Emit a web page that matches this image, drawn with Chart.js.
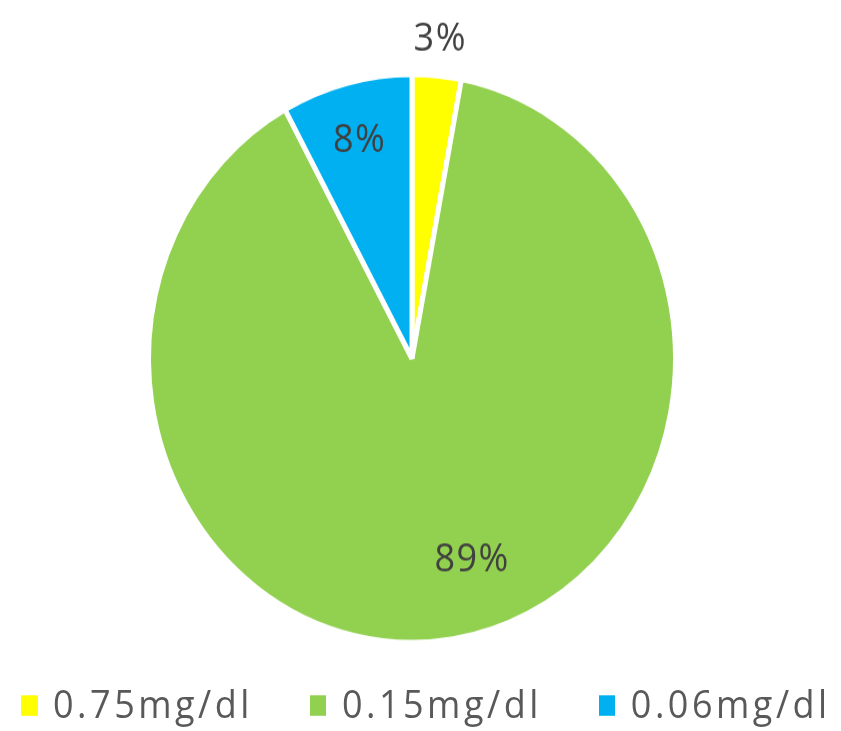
<!DOCTYPE html>
<html>
<head>
<meta charset="utf-8">
<script src="https://cdn.jsdelivr.net/npm/chart.js@4.4.1/dist/chart.umd.min.js"></script>
<style>
html,body{margin:0;padding:0;background:#fff;overflow:hidden;}
/* the reference is stretched vertically a little, so draw flat and scale */
#wrap{position:absolute;left:0;top:0;width:841px;height:678px;transform:scaleY(1.078);transform-origin:0 0;}
#c{display:block;}
#legend{position:absolute;left:21px;top:635px;display:flex;align-items:center;font-family:'Open Sans',sans-serif;font-size:36px;line-height:36px;color:#595959;letter-spacing:3.5px;white-space:nowrap;}
.li{display:flex;align-items:center;margin-right:57px;}
.box{width:16.5px;height:18.5px;margin-right:15.5px;margin-top:3px;}
</style>
</head>
<body>
<div id="wrap">
  <canvas id="c" width="841" height="678"></canvas>
  <div id="legend"></div>
</div>
<script>
// ── Data ──────────────────────────────────────────────────────────────────────
const labels=['0.75mg/dl','0.15mg/dl','0.06mg/dl'];
const shares=[3,89,8];
const colors=['#FFFF00','#92D050','#00B0F0'];

// where each % label sits: fraction of radius, angle nudge in degrees
const lblR=[1.139,0.738,0.80];
const lblShift=[0,-9,0];

// ── % labels ─────────────────────────────────────────────────────────────────
const pctPlug={id:'pctPlug',afterDatasetsDraw(chart){
  const cx=chart.ctx, arcs=chart.getDatasetMeta(0).data, ds=chart.data.datasets[0].data;
  const tot=ds.reduce((a,b)=>a+b,0);
  cx.save();
  cx.font='36px "Open Sans"'; cx.fillStyle='#404040'; cx.textAlign='center'; cx.textBaseline='alphabetic';
  try{cx.letterSpacing='1.5px';}catch(e){}
  arcs.forEach((a,i)=>{
    const p=a.getProps(['x','y','startAngle','endAngle','outerRadius'],true);
    const ang=(p.startAngle+p.endAngle)/2+lblShift[i]*Math.PI/180, r=p.outerRadius*lblR[i];
    cx.fillText(Math.round(ds[i]/tot*100)+'%',p.x+Math.cos(ang)*r,p.y+Math.sin(ang)*r+13);
  });
  cx.restore();
}};

// ── Chart ────────────────────────────────────────────────────────────────────
const chart=new Chart(document.getElementById('c').getContext('2d'),{
  type:'pie',plugins:[pctPlug],
  data:{labels,datasets:[{data:shares,backgroundColor:colors,borderColor:'#ffffff',borderWidth:5,radius:263.5}]},
  options:{responsive:false,animation:false,
    layout:{padding:{left:0,right:17,top:0,bottom:13}},
    plugins:{legend:{display:false},tooltip:{enabled:false}}}
});

// ── HTML legend built from the chart's own legend items ──────────────────────
const lg=document.getElementById('legend');
chart.options.plugins.legend.labels.generateLabels(chart).forEach(it=>{
  const li=document.createElement('div'); li.className='li';
  const bx=document.createElement('span'); bx.className='box'; bx.style.background=it.fillStyle;
  const tx=document.createElement('span'); tx.textContent=it.text;
  li.appendChild(bx); li.appendChild(tx); lg.appendChild(li);
});
</script>
</body>
</html>
